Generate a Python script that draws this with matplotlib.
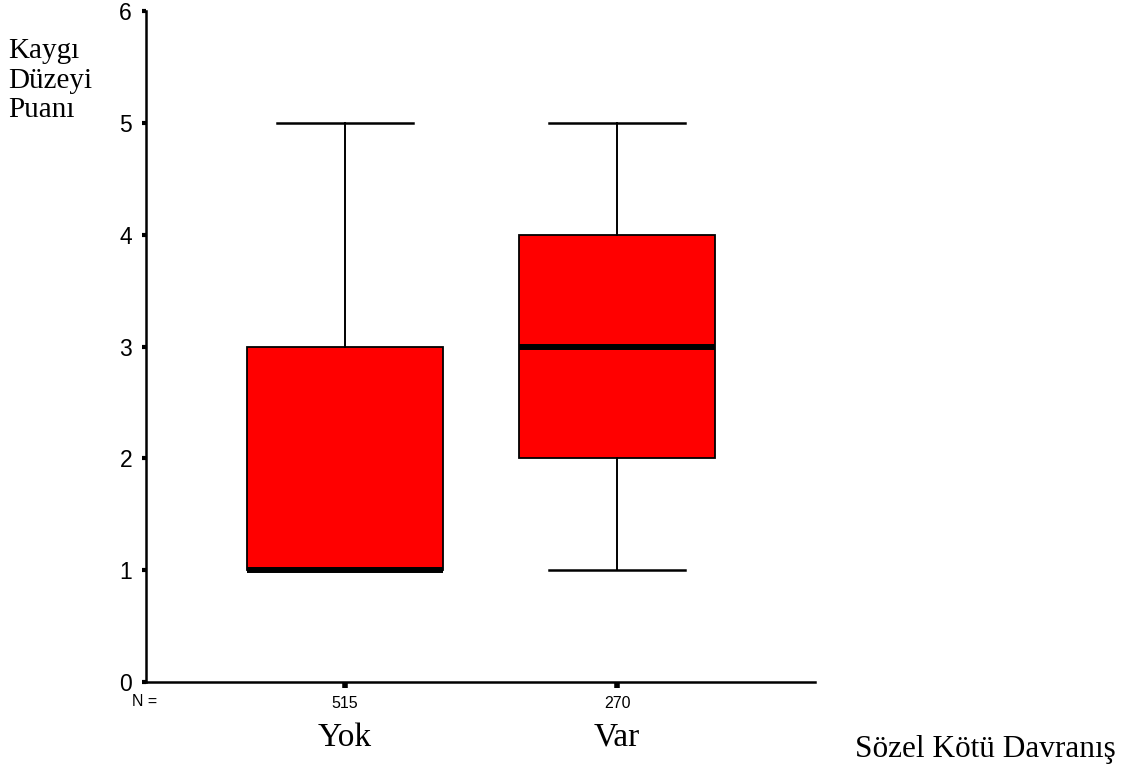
import matplotlib
matplotlib.use("Agg")
import matplotlib.pyplot as plt
import matplotlib.transforms as mtransforms

# ── Data ─────────────────────────────────────────────────────────────────
GROUPS   = ["Yok", "Var"]
N_COUNTS = [515, 270]
Q1       = [1, 2]
MEDIAN   = [1, 3]
Q3       = [3, 4]
WHIS_LO  = [1, 1]
WHIS_HI  = [5, 5]
Y_TICKS  = [0, 1, 2, 3, 4, 5, 6]

BOX_RED = "#FF0000"
SERIF = ["Liberation Serif", "DejaVu Serif"]
SANS  = ["Liberation Sans", "DejaVu Sans"]

W, H = 1125, 769
fig = plt.figure(figsize=(W / 100, H / 100), dpi=100)
ax = fig.add_axes([146 / W, 1 - 682 / H, (815 - 146) / W, (682 - 11) / H])

stats = []
for i, g in enumerate(GROUPS):
    stats.append(dict(label=g, q1=Q1[i], med=MEDIAN[i], q3=Q3[i],
                      whislo=WHIS_LO[i], whishi=WHIS_HI[i], fliers=[]))

positions = [1, 2]
ax.bxp(stats, positions=positions, widths=0.72, patch_artist=True,
       showfliers=False,
       boxprops=dict(facecolor=BOX_RED, edgecolor="black", linewidth=1.3),
       medianprops=dict(color="black", linewidth=4.3, solid_capstyle="butt"),
       whiskerprops=dict(color="black", linewidth=1.4),
       capprops=dict(color="black", linewidth=1.8),
       capwidths=0.5)

ax.set_xlim(0.268, 2.728)
ax.set_ylim(0, 6)
ax.set_yticks(Y_TICKS)
ax.set_yticklabels([str(t) for t in Y_TICKS], fontsize=16.5, family=SANS)
ax.set_xticks(positions)
ax.set_xticklabels([str(n) for n in N_COUNTS], fontsize=11.5, family=SANS)
ax.tick_params(axis="y", direction="out", length=3, width=3, pad=7)
ax.tick_params(axis="x", direction="out", length=4, width=4, pad=6)

for side in ("top", "right"):
    ax.spines[side].set_visible(False)
for side in ("left", "bottom"):
    ax.spines[side].set_linewidth(1.8)

# N = label, left of the counts
fig.text(145 / W, 1 - 702 / H, "N =", fontsize=11.5, family=SANS,
         ha="center", va="center")

# Group names under the counts
trans = mtransforms.blended_transform_factory(ax.transData, fig.transFigure)
for p, g in zip(positions, GROUPS):
    ax.text(p, 1 - 746 / H, g, transform=trans, fontsize=24, family=SERIF,
            ha="center", va="baseline")

# Y axis title (three lines, top left)
for i, line in enumerate(["Kaygı", "Düzeyi", "Puanı"]):
    fig.text(8 / W, 1 - (58 + 29.5 * i) / H, line, fontsize=21,
             family=SERIF, ha="left", va="baseline")

# X axis title (bottom right)
fig.text(855 / W, 1 - 757 / H, "Sözel Kötü Davranış", fontsize=22.5,
         family=SERIF, ha="left", va="baseline")

fig.savefig("out.png", dpi=100)
